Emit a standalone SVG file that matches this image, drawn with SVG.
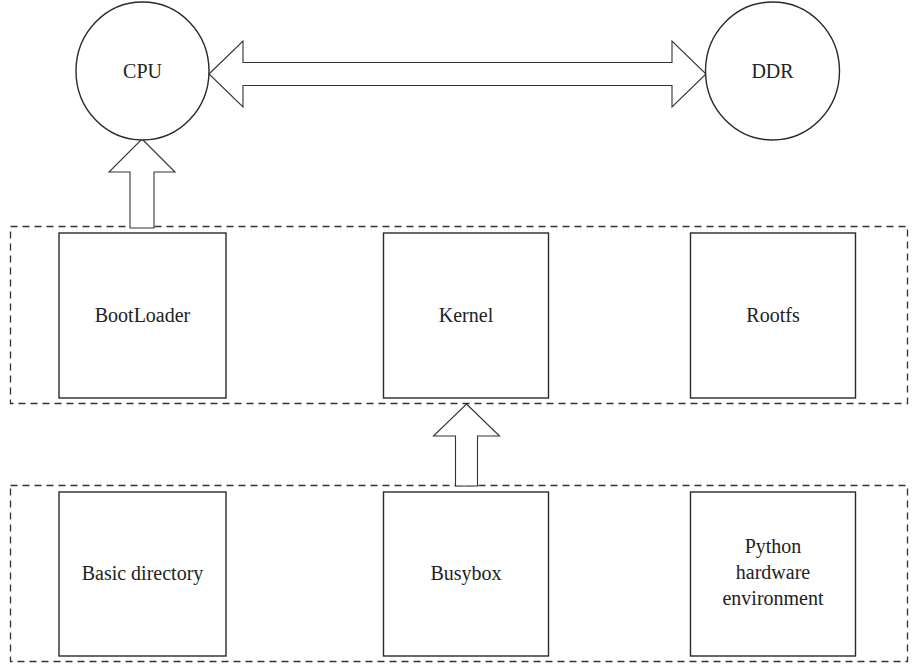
<svg xmlns="http://www.w3.org/2000/svg" width="912" height="665" viewBox="0 0 912 665">
<style>
.shape{fill:#fff;stroke:#2a2a2a;stroke-width:1.4}
.group{fill:none;stroke:#333;stroke-width:1.3;stroke-dasharray:7,5}
.arrow{fill:#fff;stroke:#333;stroke-width:1.1;stroke-linejoin:miter}
.label{font-size:20px;fill:#222;text-anchor:middle}
</style>
<rect width="912" height="665" fill="#fff"/>
<g id="layer-system"><rect class="group" x="10.5" y="226.5" width="897" height="177"/></g>
<g id="layer-rootfs"><rect class="group" x="10.5" y="485.5" width="897" height="176"/></g>
<g id="connectors">
<path class="arrow" d="M209,74 L243,41 L243,62.5 L672,62.5 L672,41 L706,74 L672,107 L672,85.5 L243,85.5 L243,107 Z"/>
<path class="arrow" d="M142,139 L175,172 L154,172 L154,228 L130,228 L130,172 L109,172 Z"/>
<path class="arrow" d="M466.5,404 L499.5,436 L477.5,436 L477.5,486 L455.5,486 L455.5,436 L433.5,436 Z"/>
</g>
<g font-family="'Liberation Serif', 'DejaVu Serif', serif">
<g id="cpu"><ellipse class="shape" cx="142.5" cy="71" rx="66.5" ry="69"/><text class="label" x="142.5" y="78">CPU</text></g>
<g id="ddr"><ellipse class="shape" cx="772.5" cy="71" rx="67" ry="69"/><text class="label" x="772.5" y="78">DDR</text></g>
<g id="bootloader"><rect class="shape" x="59" y="233" width="167" height="165"/><text class="label" x="142.5" y="322">BootLoader</text></g>
<g id="kernel"><rect class="shape" x="383.5" y="233" width="165" height="165"/><text class="label" x="466" y="322">Kernel</text></g>
<g id="rootfs"><rect class="shape" x="690.5" y="233" width="165" height="165"/><text class="label" x="773" y="322">Rootfs</text></g>
<g id="basic-directory"><rect class="shape" x="59" y="492" width="167" height="164"/><text class="label" x="142.5" y="580">Basic directory</text></g>
<g id="busybox"><rect class="shape" x="383.5" y="492" width="165" height="164"/><text class="label" x="466" y="580">Busybox</text></g>
<g id="python"><rect class="shape" x="690.5" y="492" width="165" height="164"/><text class="label" x="773" y="553">Python</text><text class="label" x="773" y="579">hardware</text><text class="label" x="773" y="605">environment</text></g>
</g>
</svg>
